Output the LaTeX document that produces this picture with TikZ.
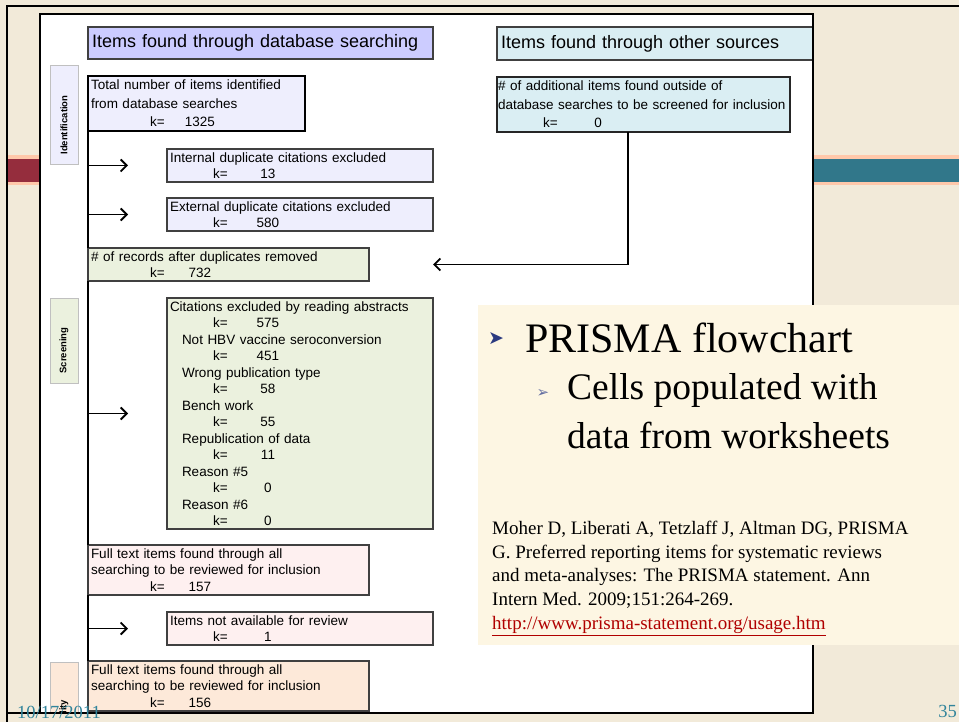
\documentclass[tikz,border=0pt]{standalone}
\usepackage{fontspec}
\setmainfont{Liberation Sans}
\newfontfamily\slidefont{Liberation Serif}
\newfontfamily\bulletfont{DejaVu Sans}
\usetikzlibrary{arrows.meta}
\definecolor{slidebg}{HTML}{F2EAD9}
\definecolor{creambg}{HTML}{FDF6E3}
\definecolor{stripered}{HTML}{952D3D}
\definecolor{stripeteal}{HTML}{31778A}
\definecolor{peach}{HTML}{FFC8AA}
\definecolor{lavhead}{HTML}{CCCCFF}
\definecolor{lavlight}{HTML}{EEEEFD}
\definecolor{bluelight}{HTML}{DAEEF3}
\definecolor{greenlight}{HTML}{EBF1DE}
\definecolor{pinklight}{HTML}{FEF0F0}
\definecolor{peachlight}{HTML}{FDE9D9}
\definecolor{darkline}{HTML}{404040}
\definecolor{sideline}{HTML}{C0C0C0}
\definecolor{dateteal}{HTML}{31849B}
\definecolor{linkred}{HTML}{B00000}
\definecolor{bulletnavy}{HTML}{2B3A80}
\hyphenpenalty=10000
\newcommand{\kvalL}[1]{\makebox[0pt][l]{\hspace*{59pt}k=}\hspace*{109pt}\makebox[0pt][c]{#1}}
\newcommand{\kvalR}[1]{\makebox[0pt][l]{\hspace*{43pt}k=}\hspace*{98pt}\makebox[0pt][c]{#1}}
\begin{document}
\begin{tikzpicture}[x=1pt,y=-1pt,
  box/.style={draw=darkline,line width=1.1pt,anchor=north west,inner xsep=3pt,inner ysep=1pt,outer sep=0pt,align=left,font=\fontsize{13.5}{16.5}\selectfont},
  headbox/.style={box,inner xsep=4pt,font=\fontsize{18}{21}\selectfont},
  sidebox/.style={draw=sideline,line width=1pt,rotate=90,minimum height=28pt,inner sep=0pt,font=\fontsize{9.5}{10}\selectfont\bfseries},
  flow/.style={line width=1.8pt},
  arrowend/.style={-{Straight Barb[length=6pt,width=12pt]}}]
\useasboundingbox (0,0) rectangle (959,722);
\fill[slidebg] (0,0) rectangle (959,722);
\fill[peach] (7,155) rectangle (40,185);
\fill[stripered] (7,159) rectangle (40,182);
\fill[peach] (813,155) rectangle (959,185);
\fill[stripeteal] (813,159) rectangle (959,182);
\fill[white] (40,14) rectangle (813,713);

\node[headbox,fill=lavhead,text width=337pt,minimum height=32pt] (dbhead) at (88,27) {Items found through database searching};
\node[headbox,fill=bluelight,text width=308pt,minimum height=33pt] (otherhead) at (497,27) {Items found through other sources};

\node[sidebox,fill=lavlight,minimum width=99pt] (ident) at (64,115.5) {Identification\hspace*{19pt}};
\node[sidebox,fill=greenlight,minimum width=84pt] (screen) at (64,341) {Screening\hspace*{19pt}};
\begin{scope}
\clip (40,14) rectangle (813,713);
\node[sidebox,fill=peachlight,minimum width=99pt] (elig) at (64,711.5) {Eligibility\hspace*{19pt}};
\end{scope}

\node[box,draw=black,line width=2pt,fill=lavlight,text width=211pt,minimum height=55pt,font=\fontsize{13.5}{18.5}\selectfont] (total) at (88,76) {Total number of items identified\\from database searches\\\kvalL{1325}};
\node[box,draw=black!85,line width=1.5pt,fill=bluelight,inner xsep=1pt,text width=291pt,minimum height=55pt,font=\fontsize{13.5}{18.5}\selectfont] (addl) at (497,77) {\# of additional items found outside of\\database searches to be screened for inclusion\\\hspace*{2pt}\kvalR{0}};
\node[box,fill=lavlight,text width=260pt,minimum height=33pt] (internal) at (167,149) {Internal duplicate citations excluded\\\kvalR{13}};
\node[box,fill=lavlight,text width=260pt,minimum height=33pt] (external) at (167,198) {External duplicate citations excluded\\\kvalR{580}};
\node[box,fill=greenlight,text width=275pt,minimum height=33pt] (records) at (88,248) {\# of records after duplicates removed\\\kvalL{732}};
\node[box,fill=greenlight,text width=260pt,minimum height=231pt] (abstracts) at (167,298) {Citations excluded by reading abstracts\\\kvalR{575}\\
\hspace*{12pt}Not HBV vaccine seroconversion\\\kvalR{451}\\
\hspace*{12pt}Wrong publication type\\\kvalR{58}\\
\hspace*{12pt}Bench work\\\kvalR{55}\\
\hspace*{12pt}Republication of data\\\kvalR{11}\\
\hspace*{12pt}Reason \#5\\\kvalR{0}\\
\hspace*{12pt}Reason \#6\\\kvalR{0}};
\node[box,fill=pinklight,text width=275pt,minimum height=50pt] (fulltext) at (88,545) {Full text items found through all\\searching to be reviewed for inclusion\\\kvalL{157}};
\node[box,fill=pinklight,text width=260pt,minimum height=33pt] (notavail) at (167,612) {Items not available for review\\\kvalR{1}};
\node[box,fill=peachlight,text width=275pt,minimum height=50pt] (fulltext2) at (88,661) {Full text items found through all\\searching to be reviewed for inclusion\\\kvalL{156}};

\draw[flow](total.south west)--(records.north west);
\draw[flow](records.south west)--(fulltext.north west);
\draw[flow](fulltext.south west)--(fulltext2.north west);
\draw[flow,arrowend](total.south west |- internal.west)--([xshift=-39pt]internal.west);
\draw[flow,arrowend](total.south west |- external.west)--([xshift=-39pt]external.west);
\draw[flow,arrowend](records.south west |- abstracts.west)--([xshift=-39pt]abstracts.west);
\draw[flow,arrowend](fulltext.south west |- notavail.west)--([xshift=-39pt]notavail.west);
\draw[flow,arrowend]([xshift=131pt]addl.south west) |- ([xshift=64pt]records.east);

\draw[line width=2.5pt] (40,14) rectangle (813,713);
\draw[line width=2.5pt] (7,722) -- (7,6) -- (959,6);
\draw[line width=2.5pt] (7,713) -- (40,713);

\fill[creambg] (478,305) rectangle (959,645);
\node[font=\bulletfont\fontsize{19}{19}\selectfont,text=bulletnavy,inner sep=0pt] (bul1) at (496,339) {➤};
\node[font=\slidefont\fontsize{42}{50}\selectfont,anchor=base west,inner sep=0pt] (point) at (525,352) {PRISMA flowchart};
\node[font=\bulletfont\fontsize{15}{15}\selectfont,text=bulletnavy!75,inner sep=0pt] (bul2) at (543,394) {➢};
\node[font=\slidefont\fontsize{37.5}{49}\selectfont,anchor=north west,align=left,inner sep=0pt] (subpoint) at (567,364.7) {\rule{0pt}{34.3pt}Cells populated with\\data from worksheets};
\node[font=\slidefont\fontsize{19}{23.8}\selectfont,anchor=north west,align=left,inner sep=0pt] (cite) at (492,517.3) {\rule{0pt}{16.7pt}Moher D, Liberati A, Tetzlaff J, Altman DG, PRISMA\\G. Preferred reporting items for systematic reviews\\and meta-analyses: The PRISMA statement. Ann\\Intern Med. 2009;151:264-269.\\\textcolor{linkred}{\underline{http://www.prisma-statement.org/usage.htm}}};

\node[font=\slidefont\fontsize{18.5}{20}\selectfont,text=dateteal,anchor=base west,inner sep=0pt] (date) at (17,718) {10/17/2011};
\node[font=\slidefont\fontsize{18.5}{20}\selectfont,text=dateteal,anchor=base east,inner sep=0pt] (pageno) at (957,717) {35};
\end{tikzpicture}
\end{document}
